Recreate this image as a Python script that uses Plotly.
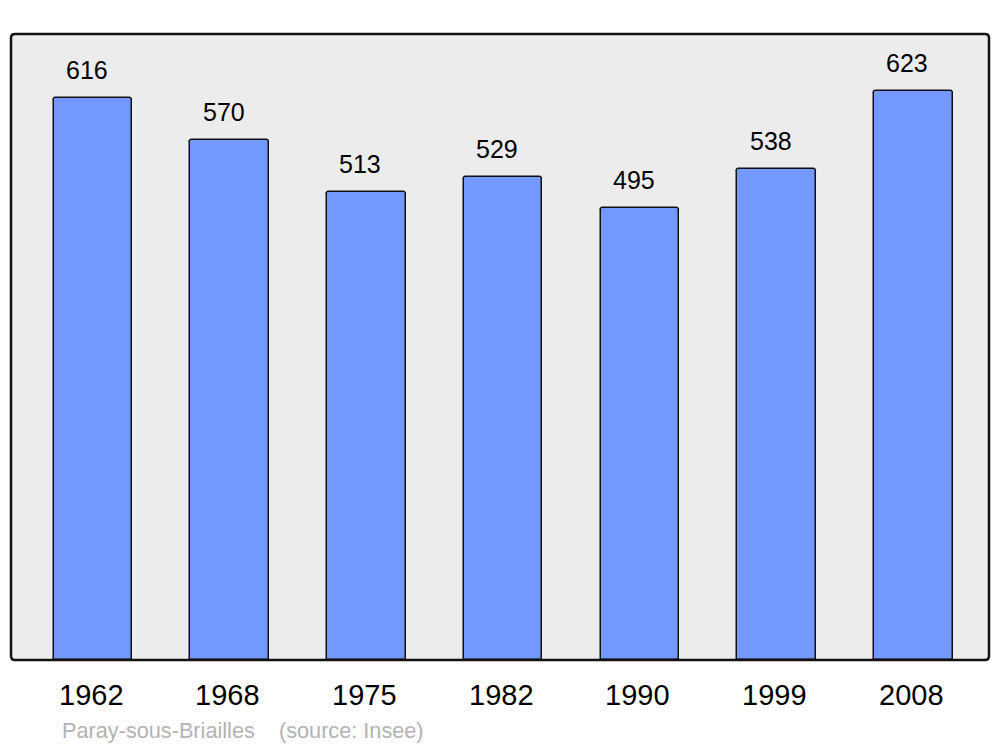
import plotly.graph_objects as go

years = ["1962", "1968", "1975", "1982", "1990", "1999", "2008"]
population = [616, 570, 513, 529, 495, 538, 623]
footer = "Paray-sous-Briailles    (source: Insee)"

W, H = 1000, 747
L, R, T, B = 11, 11, 34, 87
PW, PH = W - L - R, H - T - B
FONT = "Liberation Sans, Arial, sans-serif"

xs = list(range(len(years)))

fig = go.Figure()
fig.add_trace(go.Bar(
    x=xs, y=population, width=0.575,
    marker=dict(color="#7399ff", line=dict(color="#111111", width=1.5), cornerradius=3),
    hoverinfo="skip",
))

for i, v in zip(xs, population):
    fig.add_annotation(x=i, y=v, text=str(v), showarrow=False, yshift=28, xshift=-6,
                       font=dict(family=FONT, size=25, color="#000000"))

for i, yr in zip(xs, years):
    fig.add_annotation(x=i, y=0, text=yr, showarrow=False, yshift=-35, xshift=-2,
                       yanchor="middle",
                       font=dict(family=FONT, size=29, color="#000000"))

fig.add_annotation(xref="paper", yref="paper", x=(60 - L) / PW, xanchor="left",
                   y=-(730 - (H - B)) / PH, yanchor="middle",
                   text=footer, showarrow=False,
                   font=dict(family=FONT, size=21.7, color="#b3b3b3"))

# rounded border around plot area
rx, ry = 4 / PW, 4 / PH
path = (f"M {rx},0 L {1-rx},0 Q 1,0 1,{ry} L 1,{1-ry} Q 1,1 {1-rx},1 "
        f"L {rx},1 Q 0,1 0,{1-ry} L 0,{ry} Q 0,0 {rx},0 Z")
fig.add_shape(type="path", xref="paper", yref="paper", path=path,
              line=dict(color="#111111", width=2.5), layer="above")

fig.update_layout(
    width=W, height=H,
    margin=dict(l=L, r=R, t=T, b=B),
    paper_bgcolor="#ffffff", plot_bgcolor="#ececec",
    showlegend=False,
    bargap=0,
    xaxis=dict(range=[-0.600, 6.554], showticklabels=False,
               showgrid=False, zeroline=False, showline=False, fixedrange=True),
    yaxis=dict(range=[0, 686], showticklabels=False, showgrid=False, zeroline=False,
               showline=False, fixedrange=True),
)

fig.write_html("out.html", config={"displayModeBar": False},
               post_script="document.body.style.margin='0';")
